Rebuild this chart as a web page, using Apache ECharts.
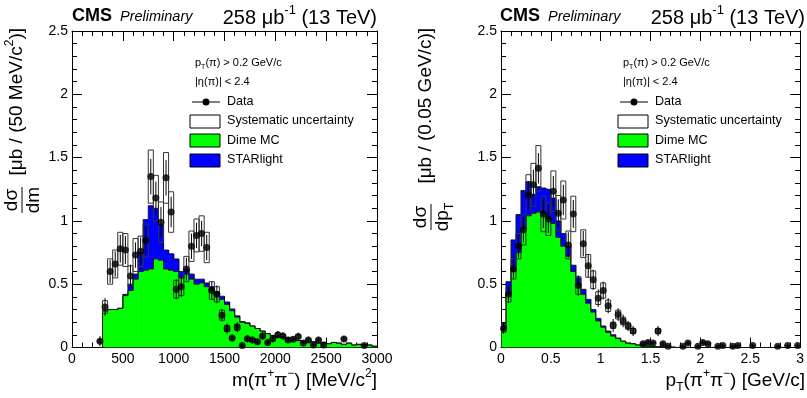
<!DOCTYPE html>
<html>
<head>
<meta charset="utf-8">
<script src="https://cdn.jsdelivr.net/npm/echarts@6/dist/echarts.min.js"></script>
<style>
  html, body { margin: 0; padding: 0; background: #fff; }
  #chart { width: 807px; height: 398px; }
</style>
</head>
<body>
<div id="chart"></div>
<script>
// histogram binning
const massStart = 250, massWidth = 50   // MeV/c^2
const ptStart = 0, ptWidth = 0.05        // GeV/c

// m(pi+pi-) panel, one value per 50 MeV bin starting at 250
const massData = [0.05, 0.32, 0.60, 0.66, 0.78, 0.77, 0.565, 0.73, 0.76, 0.845,
  1.35, 1.18, 0.99, 1.34, 1.07, 0.46, 0.48, 0.62, 0.80, 0.885,
  0.90, 0.79, 0.45, 0.42, 0.255, 0.15, 0.076, 0.16, 0.016, 0.07,
  0.06, 0.045, 0.09, 0.04, 0.07, 0.10, 0.09, 0.06, 0.065, 0.087,
  0.035, 0.06, 0.02, 0.06, 0.02, null, null, null, 0.067, null,
  null, null, 0.016, null, null]
const massStat = [0.04, 0.07, 0.09, 0.10, 0.11, 0.11, 0.09, 0.10, 0.11, 0.11,
  0.14, 0.13, 0.12, 0.14, 0.12, 0.08, 0.08, 0.09, 0.10, 0.10,
  0.10, 0.10, 0.07, 0.07, 0.05, 0.04, 0.03, 0.04, 0.015, 0.03,
  0.03, 0.025, 0.03, 0.025, 0.03, 0.03, 0.03, 0.025, 0.025, 0.03,
  0.02, 0.025, 0.015, 0.025, 0.015, null, null, null, 0.025, null,
  null, null, 0.015, null, null]
const massSyst = [0.01, 0.05, 0.10, 0.11, 0.13, 0.13, 0.08, 0.13, 0.12, 0.13,
  0.21, 0.18, 0.16, 0.20, 0.16, 0.07, 0.07, 0.10, 0.12, 0.13,
  0.14, 0.12, 0.07, 0.06, 0.04, 0.025, 0.012, 0.025, 0.004, 0.01,
  0.01, 0.008, 0.012, 0.006, 0.01, 0.014, 0.012, 0.008, 0.009, 0.012,
  0.005, 0.008, 0.003, 0.008, 0.003, null, null, null, 0.009, null,
  null, null, 0.003, null, null]
const massDime = [0, 0.29, 0.30, 0.30, 0.31, 0.41, 0.45, 0.54, 0.60, 0.61,
  0.62, 0.70, 0.69, 0.62, 0.61, 0.60, 0.55, 0.58, 0.54, 0.50,
  0.51, 0.48, 0.45, 0.41, 0.38, 0.34, 0.29, 0.24, 0.20, 0.19,
  0.17, 0.15, 0.13, 0.11, 0.095, 0.09, 0.085, 0.075, 0.065, 0.055,
  0.05, 0.045, 0.045, 0.035, 0.04, 0.03, 0.04, 0.035, 0.025, 0.035,
  0.02, 0.025, 0.02, 0.02, 0.01]
const massStar = [0, 0, 0, 0, 0, 0.01, 0.05, 0.04, 0.15, 0.40,
  0.50, 0.40, 0.28, 0.15, 0.13, 0.10, 0.05, 0.04, 0.04, 0.04,
  0.03, 0.03, 0.03, 0.03, 0.025, 0.02, 0.015, 0.01, 0.005, 0.005,
  0, 0, 0, 0, 0, 0, 0, 0, 0, 0,
  0, 0, 0, 0, 0, 0, 0, 0, 0, 0,
  0, 0, 0, 0, 0]

// pT(pi+pi-) panel, one value per 0.05 GeV bin starting at 0
const ptData = [0.15, 0.42, 0.62, 0.80, 0.93, 1.205, 1.285, 1.415, 1.055, 1.015,
  1.235, 1.06, 1.165, 0.81, 1.055, 0.49, 0.82, 0.645, 0.535, 0.39,
  0.45, 0.33, 0.175, 0.26, 0.21, 0.17, 0.13, null, 0.03, 0.04,
  0.035, 0.13, 0.03, 0.01, null, null, 0.01, 0.035, null, 0.01,
  0.04, 0.03, null, 0.01, 0.015, null, 0.01, 0.015, null, null,
  0.015, null, null, null, null, 0.01, null, 0.015, null, 0.015]
const ptStat = [0.04, 0.07, 0.08, 0.09, 0.10, 0.11, 0.12, 0.12, 0.11, 0.11,
  0.12, 0.11, 0.12, 0.10, 0.11, 0.08, 0.10, 0.09, 0.08, 0.07,
  0.07, 0.06, 0.05, 0.05, 0.05, 0.04, 0.04, null, 0.02, 0.02,
  0.02, 0.04, 0.02, 0.015, null, null, 0.015, 0.02, null, 0.015,
  0.02, 0.02, null, 0.015, 0.015, null, 0.015, 0.015, null, null,
  0.015, null, null, null, null, 0.015, null, 0.015, null, 0.015]
const ptSyst = [0.03, 0.06, 0.08, 0.10, 0.12, 0.16, 0.17, 0.18, 0.14, 0.13,
  0.16, 0.14, 0.15, 0.11, 0.14, 0.07, 0.11, 0.09, 0.07, 0.05,
  0.06, 0.045, 0.025, 0.035, 0.03, 0.025, 0.02, null, 0.005, 0.006,
  0.005, 0.02, 0.005, 0.002, null, null, 0.002, 0.005, null, 0.002,
  0.006, 0.005, null, 0.002, 0.002, null, 0.002, 0.002, null, null,
  0.002, null, null, null, null, 0.002, null, 0.002, null, 0.002]
const ptDime = [0.14, 0.42, 0.60, 0.75, 0.94, 1.04, 1.06, 1.07, 1.06, 1.02,
  0.98, 0.87, 0.80, 0.72, 0.60, 0.50, 0.42, 0.35, 0.28, 0.21,
  0.16, 0.12, 0.09, 0.07, 0.05, 0.035, 0.03, 0.02, 0.015, 0.01,
  0.008, 0.006, 0.005, 0.004, 0.003, 0, 0, 0, 0, 0,
  0, 0, 0, 0, 0, 0, 0, 0, 0, 0,
  0, 0, 0, 0, 0, 0, 0, 0, 0, 0]
const ptStar = [0.05, 0.10, 0.25, 0.30, 0.30, 0.27, 0.15, 0.20, 0.20, 0.23,
  0.20, 0.13, 0.10, 0.08, 0.05, 0.05, 0.04, 0.03, 0.02, 0.02,
  0.01, 0.01, 0.01, 0.005, 0, 0, 0, 0, 0, 0,
  0, 0, 0, 0, 0, 0, 0, 0, 0, 0,
  0, 0, 0, 0, 0, 0, 0, 0, 0, 0,
  0, 0, 0, 0, 0, 0, 0, 0, 0, 0]

const FONT = "'Liberation Sans', Arial, sans-serif"
const GREEN = '#00ff00'
const BLUE = '#0000ff'

const chart = echarts.init(document.getElementById('chart'), null, { renderer: 'canvas' })

const lo = (start, width, i) => start + i * width
const hi = (start, width, i) => start + (i + 1) * width

// filled bins get a small overlap so no seams show between neighbours
function rectRender(fill, stroke) {
  return (params, api) => {
    const a = api.coord([api.value(0), api.value(2)])
    const b = api.coord([api.value(1), api.value(3)])
    const pad = fill ? 0.6 : 0
    return {
      type: 'rect',
      shape: { x: a[0], y: b[1], width: b[0] - a[0] + pad, height: a[1] - b[1] },
      style: { fill: fill, stroke: stroke, lineWidth: stroke ? 1 : 0 },
    }
  }
}

function stepRender(params, api) {
  const p0 = api.coord([api.value(0), api.value(2)])
  const p1 = api.coord([api.value(0), api.value(3)])
  const p2 = api.coord([api.value(1), api.value(3)])
  return {
    type: 'polyline',
    shape: { points: [p0, p1, p2] },
    style: { stroke: '#111', lineWidth: 0.9, fill: null },
  }
}

function errRender(params, api) {
  const a = api.coord([api.value(0), api.value(1)])
  const b = api.coord([api.value(0), api.value(2)])
  return {
    type: 'line',
    shape: { x1: a[0], y1: a[1], x2: b[0], y2: b[1] },
    style: { stroke: '#000', lineWidth: 1 },
  }
}

function panelSeries(axis, start, width, data, stat, syst, dime, star) {
  const n = dime.length
  const greenRects = dime.map((v, i) => [lo(start, width, i), hi(start, width, i), 0, v])
  const blueRects = star.map((v, i) => [lo(start, width, i), hi(start, width, i), dime[i], dime[i] + v])
  const totals = dime.map((v, i) => v + star[i])
  const greenStep = dime.map((v, i) => [lo(start, width, i), hi(start, width, i), i ? dime[i - 1] : 0, v])
  const totalStep = totals.map((v, i) => [lo(start, width, i), hi(start, width, i), i ? totals[i - 1] : 0, v])
  const boxes = [], bars = [], points = []
  for (let i = 0; i < n; i++) {
    if (data[i] == null) continue
    const c = (lo(start, width, i) + hi(start, width, i)) / 2
    boxes.push([lo(start, width, i), hi(start, width, i), data[i] - syst[i], data[i] + syst[i]])
    bars.push([c, Math.max(0, data[i] - stat[i]), data[i] + stat[i]])
    points.push([c, data[i]])
  }
  const common = { xAxisIndex: axis, yAxisIndex: axis, clip: true, silent: true }
  return [
    { ...common, type: 'custom', name: 'Dime MC', renderItem: rectRender(GREEN, null), data: greenRects, encode: { x: [0, 1], y: [2, 3] } },
    { ...common, type: 'custom', name: 'STARlight', renderItem: rectRender(BLUE, null), data: blueRects, encode: { x: [0, 1], y: [2, 3] } },
    { ...common, type: 'custom', renderItem: stepRender, data: greenStep, encode: { x: [0, 1], y: [2, 3] } },
    { ...common, type: 'custom', renderItem: stepRender, data: totalStep, encode: { x: [0, 1], y: [2, 3] } },
    { ...common, type: 'custom', name: 'Systematic uncertainty', renderItem: rectRender(null, '#333'), data: boxes, encode: { x: [0, 1], y: [2, 3] } },
    { ...common, type: 'custom', renderItem: errRender, data: bars, encode: { x: 0, y: [1, 2] } },
    { ...common, type: 'scatter', name: 'Data', symbol: 'circle', symbolSize: 7, itemStyle: { color: '#000' }, data: points },
  ]
}

const plain = (v) => String(v)

function xAxes(grid, max, interval) {
  const base = {
    gridIndex: grid, type: 'value', min: 0, max: max, interval: interval,
    axisLine: { show: true, onZero: false, lineStyle: { color: '#000', width: 1 } },
    axisTick: { show: true, inside: true, length: 10, lineStyle: { color: '#000' } },
    minorTick: { show: true, splitNumber: 5, length: 5, lineStyle: { color: '#000' } },
    splitLine: { show: false },
    minorSplitLine: { show: false },
  }
  return [
    { ...base, position: 'bottom', axisLabel: { color: '#000', fontFamily: FONT, fontSize: 14, margin: 5, formatter: plain } },
    { ...base, position: 'top', axisLabel: { show: false } },
  ]
}

function yAxes(grid) {
  const base = {
    gridIndex: grid, type: 'value', min: 0, max: 2.5, interval: 0.5,
    axisLine: { show: true, onZero: false, lineStyle: { color: '#000', width: 1 } },
    axisTick: { show: true, inside: true, length: 10, lineStyle: { color: '#000' } },
    minorTick: { show: true, splitNumber: 5, length: 5, lineStyle: { color: '#000' } },
    splitLine: { show: false },
    minorSplitLine: { show: false },
  }
  return [
    { ...base, position: 'left', axisLabel: { color: '#000', fontFamily: FONT, fontSize: 14, margin: 4, formatter: plain } },
    { ...base, position: 'right', axisLabel: { show: false } },
  ]
}

const rich = {
  n: { fontFamily: FONT, fontSize: 19, color: '#000', lineHeight: 26, verticalAlign: 'middle' },
  sup: { fontFamily: FONT, fontSize: 12, color: '#000', lineHeight: 26, verticalAlign: 'top' },
  sub: { fontFamily: FONT, fontSize: 12, color: '#000', lineHeight: 26, verticalAlign: 'bottom' },
}
const richLumi = {
  n: { fontFamily: FONT, fontSize: 20, color: '#000', lineHeight: 24, verticalAlign: 'bottom' },
  sup: { fontFamily: FONT, fontSize: 13, color: '#000', lineHeight: 24, verticalAlign: 'top' },
}
const richSmall = {
  n: { fontFamily: FONT, fontSize: 11, color: '#000', lineHeight: 15, verticalAlign: 'middle' },
  sub: { fontFamily: FONT, fontSize: 7, color: '#000', lineHeight: 15, verticalAlign: 'bottom' },
}

function richText(x, y, text, align, r) {
  return { type: 'text', x: x, y: y, style: { text: text, rich: r || rich, align: align || 'left', verticalAlign: 'middle' } }
}

function header(x0, x1) {
  return [
    { type: 'text', x: x0, y: 16, style: { text: 'CMS', font: 'bold 18px ' + FONT, fill: '#000', verticalAlign: 'middle' } },
    { type: 'text', x: x0 + 48, y: 17, style: { text: 'Preliminary', font: 'italic 14.5px ' + FONT, fill: '#000', verticalAlign: 'middle' } },
    richText(x1, 16, '{n|258 μb}{sup|-1}{n| (13 TeV)}', 'right', richLumi),
  ]
}

function legend(x0) {
  const t = (y, s) => ({ type: 'text', x: x0 + 37, y: y, style: { text: s, font: '12.6px ' + FONT, fill: '#000', verticalAlign: 'middle' } })
  return [
    richText(x0 + 5, 63, '{n|p}{sub|T}{n|(π) > 0.2 GeV/c}', 'left', richSmall),
    richText(x0 + 5, 82, '{n||η(π)| < 2.4}', 'left', richSmall),
    { type: 'line', shape: { x1: x0 + 2, y1: 102, x2: x0 + 30, y2: 102 }, style: { stroke: '#000', lineWidth: 1 } },
    { type: 'circle', shape: { cx: x0 + 16, cy: 102, r: 3.5 }, style: { fill: '#000' } },
    t(102, 'Data'),
    { type: 'rect', shape: { x: x0, y: 115, width: 30, height: 13 }, style: { fill: '#fff', stroke: '#000', lineWidth: 1 } },
    t(121, 'Systematic uncertainty'),
    { type: 'rect', shape: { x: x0, y: 134, width: 30, height: 13 }, style: { fill: GREEN, stroke: '#000', lineWidth: 1 } },
    t(141, 'Dime MC'),
    { type: 'rect', shape: { x: x0, y: 154, width: 30, height: 13 }, style: { fill: BLUE, stroke: '#000', lineWidth: 1 } },
    t(160, 'STARlight'),
  ]
}

// rotated y-axis title: fraction followed by the unit bracket, reading bottom to top
function yTitle(x, yEnd, fracOffset, denom, bracket) {
  return {
    type: 'group', x: x, y: yEnd, rotation: Math.PI / 2,
    children: [
      richText(0, -5, bracket, 'right'),
      { type: 'text', x: -fracOffset, y: -1, style: { text: 'dσ', font: '19px ' + FONT, fill: '#000', align: 'center', verticalAlign: 'bottom' } },
      { type: 'line', shape: { x1: -fracOffset - 13, y1: 0, x2: -fracOffset + 13, y2: 0 }, style: { stroke: '#000', lineWidth: 1 } },
      richText(-fracOffset, 12, denom, 'center'),
    ],
  }
}

const option = {
  animation: false,
  backgroundColor: '#fff',
  grid: [
    { left: 72, top: 31, width: 305, height: 316.5 },
    { left: 501, top: 31, width: 305, height: 316.5 },
  ],
  xAxis: [...xAxes(0, 3000, 500), ...xAxes(1, 3, 0.5)],
  yAxis: [...yAxes(0), ...yAxes(1)],
  series: [
    ...panelSeries(0, massStart, massWidth, massData, massStat, massSyst, massDime, massStar),
    ...panelSeries(2, ptStart, ptWidth, ptData, ptStat, ptSyst, ptDime, ptStar),
  ],
  graphic: [
    ...header(72, 377),
    ...header(500, 805),
    ...legend(190),
    ...legend(618),
    richText(377, 381, '{n|m(π}{sup|+}{n|π}{sup|−}{n|) [MeV/c}{sup|2}{n|]}', 'right'),
    richText(805, 381, '{n|p}{sub|T}{n|(π}{sup|+}{n|π}{sup|−}{n|) [GeV/c]}', 'right'),
    yTitle(22, 28, 172, '{n|dm}', '{n|[μb / (50 MeV/c}{sup|2}{n|)]}'),
    yTitle(431, 28, 189, '{n|dp}{sub|T}', '{n|[μb / (0.05 GeV/c)]}'),
  ],
}

chart.setOption(option)
</script>
</body>
</html>
